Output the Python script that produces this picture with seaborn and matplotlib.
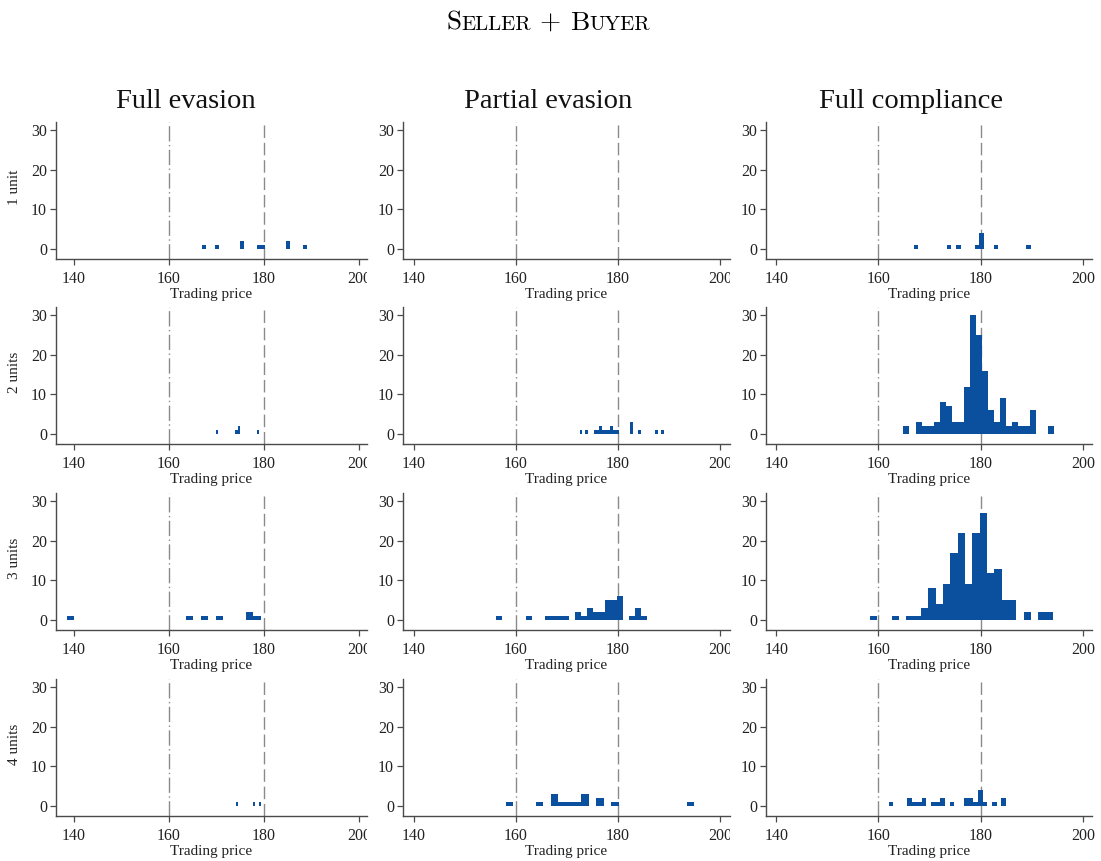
import numpy as np
import pandas as pd
import matplotlib
matplotlib.use("Agg")
import matplotlib.pyplot as plt
import seaborn as sns
from matplotlib.transforms import Bbox, TransformedBbox

# ---------------- data ----------------
columns = ["Full evasion", "Partial evasion", "Full compliance"]
rows = ["1 unit", "2 units", "3 units", "4 units"]
x_ticks = [140, 160, 180, 200]
y_ticks = [0, 10, 20, 30]
ref_dashdot = 160
ref_dashed = 180

# each panel: first bin edge, bin width, frequency of consecutive bins
fe1_start, fe1_width = 167.0, 0.88
fe1_counts = [1, 0, 0, 1, 0, 0, 0, 0, 0, 2, 0, 0, 0, 1, 1, 0, 0, 0, 0, 0, 2, 0, 0, 0, 1]
pe1_start, pe1_width = 170.0, 1.0
pe1_counts = []
fc1_start, fc1_width = 166.9, 0.92
fc1_counts = [1, 0, 0, 0, 0, 0, 0, 1, 0, 1, 0, 0, 0, 1, 4, 0, 0, 1, 0, 0, 0, 0, 0, 0, 1]

fe2_start, fe2_width = 169.95, 0.45
fe2_counts = [1, 0, 0, 0, 0, 0, 0, 0, 0, 1, 2, 0, 0, 0, 0, 0, 0, 0, 0, 1]
pe2_start, pe2_width = 172.5, 0.55
pe2_counts = [1, 0, 1, 0, 0, 1, 1, 2, 1, 1, 1, 2, 1, 1, 0, 0, 0, 0, 3, 0, 0, 1, 0, 0, 0, 0, 0, 1, 0, 1]
fc2_start, fc2_width = 164.9, 1.18
fc2_counts = [2, 0, 3, 2, 2, 3, 8, 7, 3, 3, 12, 30, 25, 16, 6, 3, 9, 2, 3, 2, 2, 6, 0, 0, 2]

fe3_start, fe3_width = 138.45, 1.57
fe3_counts = [1, 0, 0, 0, 0, 0, 0, 0, 0, 0, 0, 0, 0, 0, 0, 0, 1, 0, 1, 0, 1, 0, 0, 0, 2, 1]
pe3_start, pe3_width = 156.2, 1.18
pe3_counts = [1, 0, 0, 0, 0, 1, 0, 0, 1, 1, 1, 1, 0, 2, 1, 3, 2, 2, 5, 5, 6, 0, 1, 3, 1]
fc3_start, fc3_width = 158.3, 1.435
fc3_counts = [1, 0, 0, 1, 0, 1, 1, 3, 8, 4, 9, 17, 22, 9, 22, 27, 12, 13, 5, 5, 0, 2, 0, 2, 2]

fe4_start, fe4_width = 174.15, 0.4
fe4_counts = [1, 0, 0, 0, 0, 0, 0, 0, 0, 1, 0, 0, 1]
pe4_start, pe4_width = 158.0, 1.48
pe4_counts = [1, 0, 0, 0, 1, 0, 3, 1, 1, 1, 3, 0, 2, 0, 1, 0, 0, 0, 0, 0, 0, 0, 0, 0, 1]
fc4_start, fc4_width = 162.0, 0.92
fc4_counts = [1, 0, 0, 0, 2, 1, 1, 2, 0, 1, 1, 2, 0, 1, 0, 0, 2, 2, 1, 4, 1, 0, 1, 0, 2]

panels = [
    [(fe1_start, fe1_width, fe1_counts), (pe1_start, pe1_width, pe1_counts), (fc1_start, fc1_width, fc1_counts)],
    [(fe2_start, fe2_width, fe2_counts), (pe2_start, pe2_width, pe2_counts), (fc2_start, fc2_width, fc2_counts)],
    [(fe3_start, fe3_width, fe3_counts), (pe3_start, pe3_width, pe3_counts), (fc3_start, fc3_width, fc3_counts)],
    [(fe4_start, fe4_width, fe4_counts), (pe4_start, pe4_width, pe4_counts), (fc4_start, fc4_width, fc4_counts)],
]

# ---------------- style ----------------
sns.set_theme(style="white")
plt.rcParams["font.family"] = ["Liberation Serif", "DejaVu Serif"]

BLUE = "#0b4f9f"
AXCOL = "#4a4a4a"
REFCOL = "#8a8a8a"

W, H = 1101, 861
fig = plt.figure(figsize=(W / 100, H / 100), dpi=100)

col_px = [(56, 311, 136.2, 201.7), (403, 327, 137.9, 202.0), (766, 326, 138.0, 201.8)]
clip_right = [367, 730, None]
row_top = [122, 307, 493, 679]
row_h = 137.2

for r in range(4):
    for c in range(3):
        left, width, x0, x1 = col_px[c]
        top = row_top[r]
        ax = fig.add_axes([left / W, 1 - (top + row_h) / H, width / W, row_h / H])
        start, bw, counts = panels[r][c]
        if len(counts) > 0:
            edges = start + bw * np.arange(len(counts) + 1)
            df = pd.DataFrame({"price": (edges[:-1] + edges[1:]) / 2,
                               "freq": np.asarray(counts, dtype=float)})
            sns.histplot(data=df, x="price", weights="freq", bins=list(edges), ax=ax,
                         color=BLUE, alpha=1, linewidth=0, edgecolor="none")
        ax.axvline(ref_dashdot, color=REFCOL, lw=1.0, ls=(0, (11, 2.5, 1, 2.5)), zorder=0)
        ax.axvline(ref_dashed, color=REFCOL, lw=1.0, ls=(0, (9, 3.5)), zorder=0)
        ax.set_xlim(x0, x1)
        ax.set_ylim(-2.5, 32)
        ax.set_xticks(x_ticks)
        ax.set_yticks(y_ticks)
        ax.set_xticklabels([str(v) for v in x_ticks])
        ax.set_yticklabels([str(v) for v in y_ticks])
        for s in ["top", "right"]:
            ax.spines[s].set_visible(False)
        for s in ["left", "bottom"]:
            ax.spines[s].set_color(AXCOL)
            ax.spines[s].set_linewidth(1.0)
        ax.tick_params(axis="both", direction="out", length=4.5, width=0.9,
                       color=AXCOL, labelsize=11.5, pad=2, labelcolor="#222222",
                       bottom=True, left=True)
        ax.tick_params(axis="x", pad=4)
        ax.set_xlabel("Trading price", fontsize=11, labelpad=1, color="#222222")
        ax.set_ylabel("")
        ax.patch.set_alpha(0)
        if clip_right[c] is not None:
            clip = TransformedBbox(Bbox([[0, 0], [clip_right[c] / W, 1]]), fig.transFigure)
            for t in ax.xaxis.get_major_ticks():
                t.label1.set_clip_on(True)
                t.label1.set_clip_box(clip)
        else:
            for t in ax.xaxis.get_major_ticks():
                t.label1.set_clip_on(False)
        if c == 0:
            fig.text(15 / W, 1 - (top + row_h / 2 - 3) / H, rows[r], rotation=90,
                     ha="center", va="center", fontsize=11, color="#222222")

# column titles
col_cx = [186, 548, 911]
for c in range(3):
    fig.text(col_cx[c] / W, 1 - 101 / H, columns[c], ha="center", va="center",
             fontsize=20.5, color="#111111")

# title in small capitals: "Seller + Buyer"
renderer = fig.canvas.get_renderer()
pieces = [("S", 19.5), ("ELLER", 15), (" + ", 19.5), ("B", 19.5), ("UYER", 15)]
texts = []
total = 0.0
for s, fs in pieces:
    t = fig.text(0, 1 - 30 / H, s, fontsize=fs, family=["cmr10", "DejaVu Serif"],
                 ha="left", va="baseline", color="black")
    w = t.get_window_extent(renderer).width
    texts.append((t, w))
    total += w
x = 548 - total / 2
for t, w in texts:
    t.set_x(x / W)
    x += w

fig.savefig("out.png", dpi=100)
